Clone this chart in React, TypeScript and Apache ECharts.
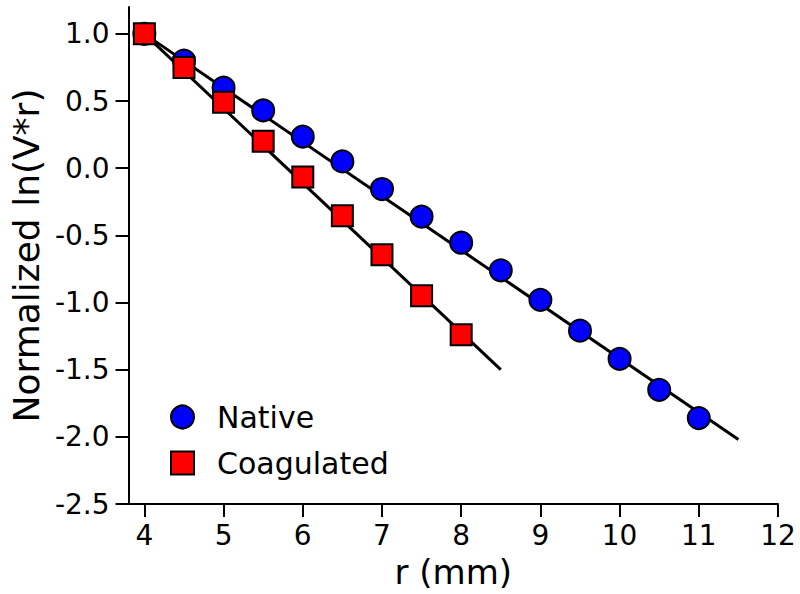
import React, { useEffect, useRef } from "react";
import * as echarts from "echarts";

const nativeR = [4, 4.5, 5, 5.5, 6, 6.5, 7, 7.5, 8, 8.5, 9, 9.5, 10, 10.5, 11];
const nativeV = [1.0, 0.8, 0.6, 0.43, 0.235, 0.05, -0.155, -0.36, -0.555, -0.76, -0.98, -1.21, -1.42, -1.65, -1.86];
const coagR = [4, 4.5, 5, 5.5, 6, 6.5, 7, 7.5, 8];
const coagV = [1.0, 0.75, 0.49, 0.2, -0.065, -0.355, -0.645, -0.95, -1.24];
const nativeFitR = [4, 11.5];
const nativeFitV = [1.0, -2.02];
const coagFitR = [4, 8.5];
const coagFitV = [1.0, -1.5];
const xTicks = [4, 5, 6, 7, 8, 9, 10, 11, 12];
const yTicks = [-2.5, -2.0, -1.5, -1.0, -0.5, 0.0, 0.5, 1.0];

const zip = (a: number[], b: number[]) => a.map((v, i) => [v, b[i]]);
const FONT = "DejaVu Sans";

export default function App() {
  const ref = useRef<HTMLDivElement>(null);
  useEffect(() => {
    const chart = echarts.init(ref.current!, null, { renderer: "svg" });
    const axisLine = { show: true, onZero: false, lineStyle: { color: "#000", width: 2 } };
    const tick = { show: true, inside: false, length: 13, lineStyle: { color: "#000", width: 2 } };
    chart.setOption({
      animation: false,
      backgroundColor: "#fff",
      grid: { left: 122, right: 22, top: 7, bottom: 88, containLabel: false },
      xAxis: {
        type: "value",
        min: 3.8,
        max: 12,
        axisLine,
        splitLine: { show: false },
        axisTick: { ...tick, customValues: xTicks },
        axisLabel: { customValues: xTicks, color: "#000", fontSize: 28, fontFamily: FONT, margin: 17, formatter: (v: number) => String(v) },
        name: "r (mm)",
        nameLocation: "middle",
        nameGap: 51,
        nameTextStyle: { color: "#000", fontSize: 34, fontFamily: FONT },
      },
      yAxis: {
        type: "value",
        min: -2.5,
        max: 1.2,
        axisLine,
        splitLine: { show: false },
        axisTick: { ...tick, customValues: yTicks },
        axisLabel: { customValues: yTicks, color: "#000", fontSize: 28, fontFamily: FONT, margin: 19, formatter: (v: number) => v.toFixed(1) },
        name: "Normalized ln(V*r)",
        nameLocation: "middle",
        nameGap: 82,
        nameTextStyle: { color: "#000", fontSize: 36, fontFamily: FONT },
      },
      legend: {
        orient: "vertical",
        left: 170,
        top: 402,
        padding: 0,
        itemWidth: 23,
        itemHeight: 23,
        itemGap: 16,
        data: ["Native", "Coagulated"],
        textStyle: { color: "#000", fontSize: 30, fontFamily: FONT, padding: [0, 0, 0, 18] },
      },
      series: [
        {
          name: "nativeFit",
          type: "line",
          data: zip(nativeFitR, nativeFitV),
          showSymbol: false,
          lineStyle: { color: "#000", width: 3 },
          z: 1,
        },
        {
          name: "coagFit",
          type: "line",
          data: zip(coagFitR, coagFitV),
          showSymbol: false,
          lineStyle: { color: "#000", width: 3 },
          z: 1,
        },
        {
          name: "Native",
          type: "scatter",
          data: zip(nativeR, nativeV),
          symbol: "circle",
          symbolSize: 22,
          itemStyle: { color: "#0000ff", borderColor: "#000", borderWidth: 2, opacity: 1 },
          z: 3,
        },
        {
          name: "Coagulated",
          type: "scatter",
          data: zip(coagR, coagV),
          symbol: "rect",
          symbolSize: 21,
          itemStyle: { color: "#ff0000", borderColor: "#000", borderWidth: 2, opacity: 1 },
          z: 4,
        },
      ],
    });
    return () => chart.dispose();
  }, []);
  return <div ref={ref} style={{ position: "absolute", left: 0, top: 0, width: 800, height: 594 }} />;
}
